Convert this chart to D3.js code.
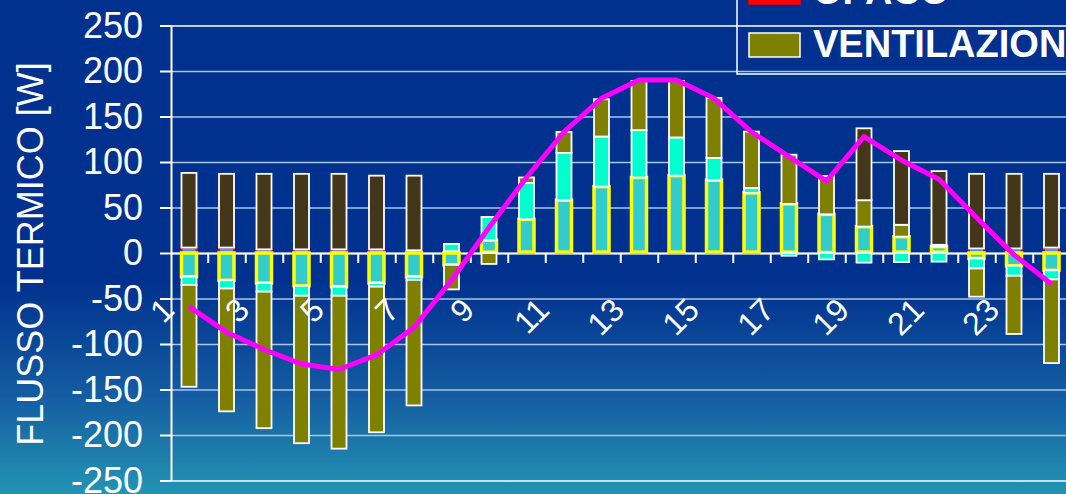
<!DOCTYPE html>
<html><head><meta charset="utf-8">
<script src="https://cdn.jsdelivr.net/npm/d3@7"></script>
<style>
html,body{margin:0;padding:0;background:#00318e;overflow:hidden}
svg{display:block;font-family:"Liberation Sans",Arial,sans-serif}
</style></head><body>
<svg id="c" width="1066" height="494"></svg>
<script>
// ---- data ----
const hours = [1,2,3,4,5,6,7,8,9,10,11,12,13,14,15,16,17,18,19,20,21,22,23,24];
const xTickLabels = ["1","3","5","7","9","11","13","15","17","19","21","23"];
const yTicks = [-250,-200,-150,-100,-50,0,50,100,150,200,250];
const seriesNames = ["OPACO","TRASPARENTE","SOLARE","VENTILAZIONE","INTERNI"];
const opaco        = [6,6,4,4,4,4,3,2,1,1,1,1,1,1,1,1,1,0.5,1,1,1,5,5,6];
const trasparente  = [-26,-30,-33,-36,-37,-33,-26,-13,13,36,57,72,82,84,79,65,53,42,28,17,6,-6,-14,-19];
const solare       = [-9,-9,-9.5,-11,-10,-4,-3.5,8,25.6,40,52,55,52,42,24.5,5.4,-3,-7,-10.6,-10,-9.5,-11,-11,-10];
const ventilazione = [-112,-135,-150,-162,-168,-160,-138,-27,-12,6,23,41,54,62,66,62,54,42,29,13,2,-31,-64,-92];
const interni      = [82,81,83,83,83,81,82,0,0,0,0,0,0,0,0,0,0,0,79,81,81,82,82,81];
const totale       = [-59,-87,-106,-122,-128,-112,-82,-30,28,83,133,170,190,190,170,133,106,79,128,102,81,39,-2,-34];
const legendNames  = ["OPACO","VENTILAZIONE"];
const yTitle = "FLUSSO TERMICO [W]";

// ---- styles ----
const styles = {
  OPACO:        {fill:"#3d9bf0", stroke:"#ff0000", sw:2},
  TRASPARENTE:  {fill:"#33cccc", stroke:"#ffff00", sw:3.5},
  SOLARE:       {fill:"#00ffcc", stroke:"#ffffff", sw:1.8},
  VENTILAZIONE: {fill:"#808000", stroke:"#ffffff", sw:1.8},
  INTERNI:      {fill:"#433619", stroke:"#ffffff", sw:1.8}
};
const legendStyle = {OPACO:{fill:"#ff0000",stroke:"#ff0000"}, VENTILAZIONE:{fill:"#808000",stroke:"#ffffff"}};

const W = 1066, H = 494;
const svg = d3.select("#c");
const defs = svg.append("defs");
const grad = defs.append("linearGradient").attr("id","bg").attr("x1",0).attr("y1",0).attr("x2",0).attr("y2",1);
grad.append("stop").attr("offset","0").attr("stop-color","#00318e");
grad.append("stop").attr("offset","0.57").attr("stop-color","#00318e");
grad.append("stop").attr("offset","0.8").attr("stop-color","#145ca1");
grad.append("stop").attr("offset","1").attr("stop-color","#2394b3");
svg.append("rect").attr("width",W).attr("height",H).attr("fill","url(#bg)");

const plotLeft = 170.25, band = 37.5;
const x = d3.scaleBand().domain(hours).range([plotLeft, plotLeft + band*hours.length]).padding(0);
const y = d3.scaleLinear().domain([-250,250]).range([480.5,25.5]);
const xEdge = d3.scaleLinear().domain([0,hours.length]).range([plotLeft, plotLeft + band*hours.length]);
const axisX = 171;
const plotRight = plotLeft + band*hours.length;

// gridlines
const grid = svg.append("g").attr("transform",`translate(${axisX},0)`)
  .call(d3.axisLeft(y).tickValues(yTicks).tickSize(-(plotRight-axisX)).tickFormat(""));
grid.select(".domain").remove();
grid.selectAll(".tick line").attr("stroke", d => (Math.abs(d)===250 ? "#ffffff" : "#a9c6ea")).attr("stroke-width",1.5);

// y axis
const yAx = svg.append("g").attr("transform",`translate(${axisX},0)`)
  .call(d3.axisLeft(y).tickValues(yTicks).tickSize(11).tickSizeOuter(0).tickPadding(17).tickFormat(d => String(d)));
yAx.select(".domain").attr("stroke","#ffffff").attr("stroke-width",2);
yAx.selectAll(".tick line").attr("stroke","#ffffff").attr("stroke-width",2);
yAx.selectAll(".tick text").attr("fill","#ffffff").attr("font-size",36).attr("font-family","Liberation Sans, Arial, sans-serif");

// x axis (zero line + boundary ticks)
const xAx = svg.append("g").attr("transform",`translate(0,${y(0)})`)
  .call(d3.axisBottom(xEdge).tickValues(d3.range(1,hours.length)).tickSize(10).tickSizeOuter(0).tickFormat(""));
xAx.select(".domain").attr("stroke","#ffffff").attr("stroke-width",2);
xAx.selectAll(".tick line").attr("stroke","#ffffff").attr("stroke-width",2);

// stacked bars
const table = hours.map((h,i)=>({hour:h, OPACO:opaco[i], TRASPARENTE:trasparente[i], SOLARE:solare[i], VENTILAZIONE:ventilazione[i], INTERNI:interni[i]}));
const stacked = d3.stack().keys(seriesNames).offset(d3.stackOffsetDiverging)(table);
const barW = 15;
stacked.forEach(s => {
  const st = styles[s.key];
  svg.append("g").selectAll("rect").data(s.filter(d => d[1]-d[0] !== 0)).join("rect")
    .attr("x", d => x(d.data.hour) + (band-barW)/2)
    .attr("width", barW)
    .attr("y", d => y(Math.max(d[0],d[1])))
    .attr("height", d => Math.abs(y(d[0]) - y(d[1])))
    .attr("fill", st.fill).attr("stroke", st.stroke).attr("stroke-width", st.sw);
});

// total line
const line = d3.line().x((d,i)=>x(hours[i])+band/2).y(d=>y(d));
svg.append("path").datum(totale).attr("d", line)
  .attr("fill","none").attr("stroke","#ff00ff").attr("stroke-width",5).attr("stroke-linejoin","round");

// x labels rotated
svg.append("g").selectAll("text").data(xTickLabels).join("text")
  .attr("transform", d => `translate(${x(+d)+band/2-13},312) rotate(-45)`)
  .attr("text-anchor","end")
  .attr("fill","#ffffff").attr("font-size",32)
  .text(d=>d);

// y title
svg.append("text").attr("transform","translate(43,254) rotate(-90)")
  .attr("text-anchor","middle").attr("fill","#ffffff").attr("font-size",36).text(yTitle);

// legend
const lg = svg.append("g");
lg.append("rect").attr("x",737).attr("y",-80).attr("width",400).attr("height",154)
  .attr("fill","none").attr("stroke","#ffffff").attr("stroke-width",1.5);
const rowY = d3.scaleLinear().domain([0,1]).range([4,57]);
legendNames.forEach((n,i)=>{
  const by = rowY(i);
  lg.append("rect").attr("x",749).attr("y",by-24).attr("width",51).attr("height",24)
    .attr("fill",legendStyle[n].fill).attr("stroke",legendStyle[n].stroke).attr("stroke-width",1.5);
  lg.append("text").attr("x",813).attr("y",by).attr("fill","#ffffff")
    .attr("font-size",38).attr("font-weight","bold").text(n);
});
</script>
</body></html>
